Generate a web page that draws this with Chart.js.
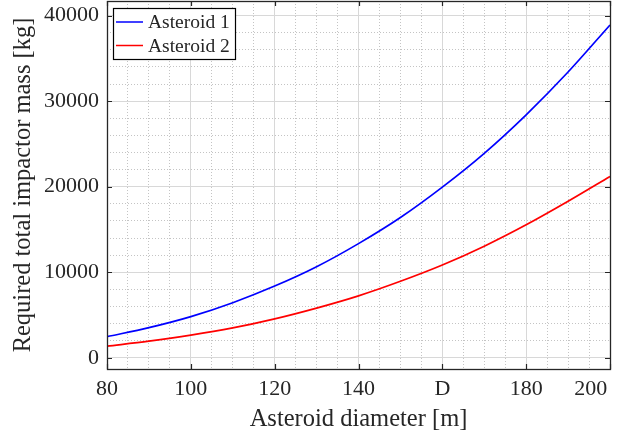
<!DOCTYPE html>
<html>
<head>
<meta charset="utf-8">
<script src="https://cdn.jsdelivr.net/npm/chart.js@4.4.1/dist/chart.umd.min.js"></script>
<style>
html,body{margin:0;padding:0;background:#fff;}
#wrap{width:627px;height:436px;position:relative;}
</style>
</head>
<body>
<div id="wrap"><canvas id="c" width="627" height="436"></canvas></div>
<script>
// ---- data ----
const diameters = [80, 90, 100, 110, 120, 130, 140, 150, 160, 170, 180, 190, 200];
const asteroid1 = [2480, 3530, 4820, 6450, 8390, 10650, 13350, 16400, 19950, 23900, 28400, 33400, 38900];
const asteroid2 = [1370, 1950, 2650, 3500, 4560, 5820, 7250, 8950, 10850, 13050, 15550, 18300, 21200];
const seriesLabels = ['Asteroid 1', 'Asteroid 2'];
const seriesColors = ['#0000ff', '#ff0000'];
const xTickValues = [80, 100, 120, 140, 160, 180, 200];
const xTickLabels = ['80', '100', '120', '140', 'D', '180', '200'];
const yTickValues = [0, 10000, 20000, 30000, 40000];
const yTickLabels = ['0', '10000', '20000', '30000', '40000'];
const xMinorStep = 5, yMinorStep = 2000;
const xRange = [80, 200], yRange = [-1300, 41700];
const xTitle = 'Asteroid diameter [m]';
const yTitle = 'Required total impactor mass [kg]';

const FONT = "'Liberation Serif', 'Times New Roman', serif";
const AXIS = '#262626';

function gridTicks(min, max, step) {
  const out = [];
  for (let v = Math.ceil(min / step) * step; v <= max + 1e-9; v += step) out.push({value: v});
  return out;
}
function noPad(s) { s.paddingLeft = 0; s.paddingRight = 0; s.paddingTop = 0; s.paddingBottom = 0; }

const boxPlugin = {
  id: 'box',
  afterDatasetsDraw(chart) {
    const {ctx, chartArea: a, scales} = chart;
    ctx.save();
    // inward ticks
    ctx.strokeStyle = AXIS; ctx.lineWidth = 1.2;
    const tl = 5;
    xTickValues.forEach(v => {
      const px = Math.round(scales.x.getPixelForValue(v)) + 0.5;
      ctx.beginPath();
      ctx.moveTo(px, a.bottom); ctx.lineTo(px, a.bottom - tl);
      ctx.moveTo(px, a.top); ctx.lineTo(px, a.top + tl);
      ctx.stroke();
    });
    yTickValues.forEach(v => {
      const py = Math.round(scales.y.getPixelForValue(v)) + 0.5;
      ctx.beginPath();
      ctx.moveTo(a.left, py); ctx.lineTo(a.left + tl, py);
      ctx.moveTo(a.right, py); ctx.lineTo(a.right - tl, py);
      ctx.stroke();
    });
    // box
    ctx.lineWidth = 1.3;
    ctx.strokeRect(Math.round(a.left) + 0.5, Math.round(a.top) + 0.5,
                   Math.round(a.right - a.left), Math.round(a.bottom - a.top));
    // legend
    const lx = 113.5, ly = 8.5, lw = 122, lh = 51;
    ctx.fillStyle = '#fff';
    ctx.fillRect(lx, ly, lw, lh);
    ctx.strokeStyle = '#000'; ctx.lineWidth = 1.2;
    ctx.strokeRect(lx, ly, lw, lh);
    ctx.font = '19.5px ' + FONT;
    ctx.textBaseline = 'middle';
    chart.data.datasets.forEach((ds, i) => {
      const yy = 22 + i * 23.5;
      ctx.strokeStyle = ds.borderColor; ctx.lineWidth = 1.5;
      ctx.beginPath(); ctx.moveTo(116, yy); ctx.lineTo(143, yy); ctx.stroke();
      ctx.fillStyle = '#262626';
      ctx.fillText(ds.label, 148, yy + 1);
    });
    ctx.restore();
  }
};

new Chart(document.getElementById('c'), {
  type: 'line',
  data: {
    datasets: [
      {label: seriesLabels[0], data: diameters.map((d, i) => ({x: d, y: asteroid1[i]})),
       borderColor: seriesColors[0], borderWidth: 1.7, pointRadius: 0, cubicInterpolationMode: 'monotone', fill: false},
      {label: seriesLabels[1], data: diameters.map((d, i) => ({x: d, y: asteroid2[i]})),
       borderColor: seriesColors[1], borderWidth: 1.7, pointRadius: 0, cubicInterpolationMode: 'monotone', fill: false}
    ]
  },
  options: {
    responsive: false,
    animation: false,
    devicePixelRatio: 1,
    layout: {padding: {left: 9, right: 17, top: 1, bottom: 0}},
    plugins: {legend: {display: false}, tooltip: {enabled: false}},
    scales: {
      x: {
        type: 'linear', min: xRange[0], max: xRange[1],
        afterBuildTicks: s => { s.ticks = gridTicks(xRange[0], xRange[1], xMinorStep); },
        afterFit: s => { s.height = 67; noPad(s); },
        ticks: {
          autoSkip: false, maxRotation: 0, minRotation: 0, padding: 7, color: '#262626',
          font: {family: FONT, size: 22},
          callback: v => { const i = xTickValues.indexOf(v); if (i < 0) return ''; return i === xTickValues.length - 1 ? xTickLabels[i] + '       ' : xTickLabels[i]; }
        },
        grid: {
          drawTicks: false,
          color: c => (c.tick && xTickValues.includes(c.tick.value)) ? '#d8d8d8' : '#c4c4c4',
          lineWidth: 1
        },
        border: {display: false, dash: c => (c.tick && !xTickValues.includes(c.tick.value)) ? [1, 2] : []},
        title: {display: true, text: xTitle, color: '#262626', font: {family: FONT, size: 24.5}, padding: {top: 0, bottom: 2}}
      },
      y: {
        type: 'linear', min: yRange[0], max: yRange[1],
        afterBuildTicks: s => { s.ticks = gridTicks(0, yRange[1], yMinorStep); },
        afterFit: s => { s.width = 98; noPad(s); },
        ticks: {
          autoSkip: false, padding: 8, color: '#262626',
          font: {family: FONT, size: 22},
          callback: v => { const i = yTickValues.indexOf(v); return i < 0 ? '' : yTickLabels[i]; }
        },
        grid: {
          drawTicks: false,
          color: c => (c.tick && yTickValues.includes(c.tick.value)) ? '#d8d8d8' : '#c4c4c4',
          lineWidth: 1
        },
        border: {display: false, dash: c => (c.tick && !yTickValues.includes(c.tick.value)) ? [1, 2] : []},
        title: {display: true, text: yTitle, color: '#262626', font: {family: FONT, size: 24.5}, padding: {top: 0, bottom: 0}}
      }
    }
  },
  plugins: [boxPlugin]
});
</script>
</body>
</html>
